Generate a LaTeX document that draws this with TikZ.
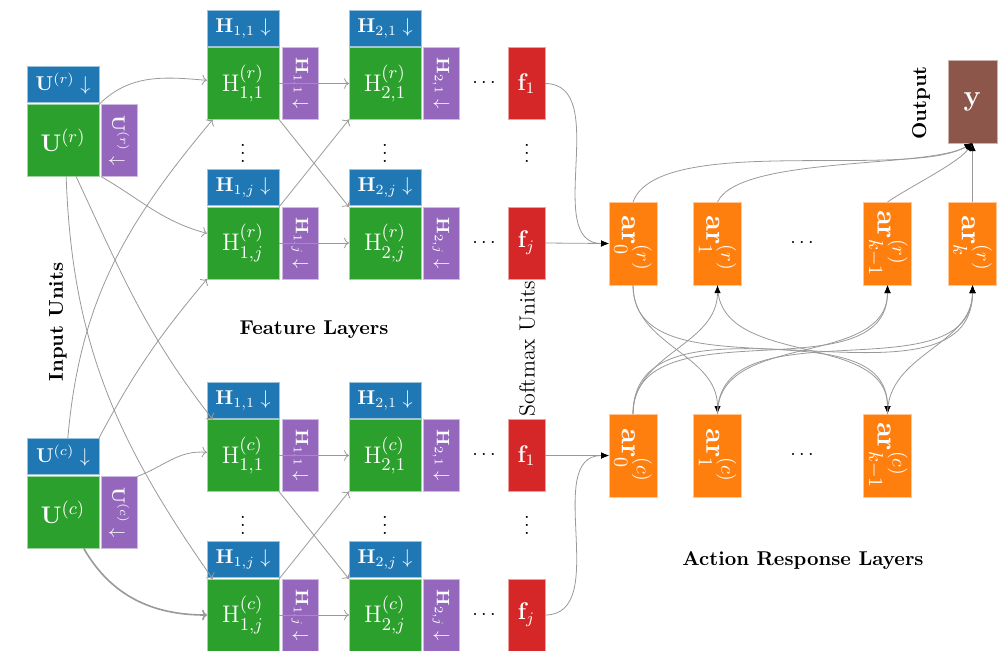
\documentclass[tikz,border=0pt]{standalone}
\usepackage{graphicx, amssymb}
\usepackage{tikz}
\usetikzlibrary{arrows.meta}
\definecolor{cblue}{HTML}{1F77B4}
\definecolor{cgreen}{HTML}{2CA02C}
\definecolor{cpurple}{HTML}{9467BD}
\definecolor{cred}{HTML}{D62728}
\definecolor{corange}{HTML}{FF7F0E}
\definecolor{cbrown}{HTML}{8C564B}
\tikzset{
every picture/.style={line width=0.4pt, x=0.5pt, y=0.5pt},
%%%%%%%%%%  Node styles
cell/.style={rectangle, draw=white!55!#1, fill=#1, text=white,
             inner sep=0pt, outer sep=0pt},
unitbox/.style={cell=cgreen, minimum width=36pt, minimum height=36pt,
                font=\fontsize{13.2}{15}\selectfont},
downbox/.style={cell=cblue, minimum width=36pt, minimum height=18pt},
sidebox/.style={cell=cpurple, minimum width=18pt, minimum height=36pt,
                font=\small},
softbox/.style={cell=cred, minimum width=18.5pt, minimum height=36pt,
                font=\large},
respbox/.style={cell=corange, minimum width=24pt, minimum height=41.5pt,
                font=\Large},
outbox/.style={cell=cbrown, minimum width=24.5pt, minimum height=41.5pt,
               font=\Large},
dots/.style={inner sep=0pt},
caption/.style={font=\bfseries},
%%%% different line styles:
wire/.style={draw=black!40, -{To[length=2.5pt]}},
resp/.style={draw=black!40, -{Latex[length=4pt,width=3.2pt,black]}}
}

\begin{document}
\begin{tikzpicture}
\useasboundingbox (0,0) rectangle (1005,-650);

%%%%% input units
\node[downbox] (Urd) at (63,-84) {$\mathbf{U}^{(r)}\downarrow$};
\node[unitbox] (Ur) at (63,-140.5) {$\mathbf{U}^{(r)}$};
\node[sidebox] (Urs) at (119,-140.5) {\rotatebox{-90}{$\mathbf{U}^{(r)}\downarrow$}};
\node[downbox] (Ucd) at (63,-456) {$\mathbf{U}^{(c)}\downarrow$};
\node[unitbox] (Uc) at (63,-512.5) {$\mathbf{U}^{(c)}$};
\node[sidebox] (Ucs) at (119,-512.5) {\rotatebox{-90}{$\mathbf{U}^{(c)}\downarrow$}};

%%%%% feature layers and softmax units, one block per player
\foreach \g/\dy in {r/0,c/-372} {
  \node[downbox] (H11\g d) at (243,-28+\dy) {$\mathbf{H}_{1,1}\downarrow$};
  \node[unitbox] (H11\g) at (243,-83.5+\dy) {$\mathrm{H}^{(\g)}_{1,1}$};
  \node[sidebox] (H11\g s) at (300,-83.5+\dy) {\rotatebox{-90}{$\mathbf{H}_{1,1}\downarrow$}};
  \node[downbox] (H21\g d) at (385,-28+\dy) {$\mathbf{H}_{2,1}\downarrow$};
  \node[unitbox] (H21\g) at (385,-83.5+\dy) {$\mathrm{H}^{(\g)}_{2,1}$};
  \node[sidebox] (H21\g s) at (441,-83.5+\dy) {\rotatebox{-90}{$\mathbf{H}_{2,1}\downarrow$}};
  \node[downbox] (H1j\g d) at (243,-187.5+\dy) {$\mathbf{H}_{1,j}\downarrow$};
  \node[unitbox] (H1j\g) at (243,-243+\dy) {$\mathrm{H}^{(\g)}_{1,j}$};
  \node[sidebox] (H1j\g s) at (300,-243+\dy) {\rotatebox{-90}{$\mathbf{H}_{1,j}\downarrow$}};
  \node[downbox] (H2j\g d) at (385,-187.5+\dy) {$\mathbf{H}_{2,j}\downarrow$};
  \node[unitbox] (H2j\g) at (385,-243+\dy) {$\mathrm{H}^{(\g)}_{2,j}$};
  \node[sidebox] (H2j\g s) at (441,-243+\dy) {\rotatebox{-90}{$\mathbf{H}_{2,j}\downarrow$}};
  \node[softbox] (f1\g) at (526.5,-83.5+\dy) {$\mathbf{f}_1$};
  \node[softbox] (fj\g) at (526.5,-243+\dy) {$\mathbf{f}_j$};
  \node[dots] (vd1\g) at (243,-147+\dy) {$\vdots$};
  \node[dots] (vd2\g) at (385,-147+\dy) {$\vdots$};
  \node[dots] (vd3\g) at (527,-147+\dy) {$\vdots$};
  \node[dots] (hd1\g) at (484,-83.5+\dy) {$\cdots$};
  \node[dots] (hd2\g) at (484,-243+\dy) {$\cdots$};
  % connections inside the block
  \draw[wire] (H11\g.east) -- (H21\g.west);
  \draw[wire] (H1j\g.east) -- (H2j\g.west);
  \draw[wire] (H11\g.south east) -- (H2j\g.north west);
  \draw[wire] (H1j\g.north east) -- (H21\g.south west);
}

%%%%% action response layers
\node[respbox] (ar0r) at (633,-243.5) {\rotatebox{-90}{$\mathbf{ar}^{(r)}_{0}$}};
\node[respbox] (ar1r) at (717.5,-243.5) {\rotatebox{-90}{$\mathbf{ar}^{(r)}_{1}$}};
\node[dots] (ardr) at (802,-243.5) {$\cdots$};
\node[respbox] (arkmr) at (887.5,-243.5) {\rotatebox{-90}{$\mathbf{ar}^{(r)}_{k-1}$}};
\node[respbox] (arkr) at (972.5,-243.5) {\rotatebox{-90}{$\mathbf{ar}^{(r)}_{k}$}};
\node[respbox] (ar0c) at (633,-455.5) {\rotatebox{-90}{$\mathbf{ar}^{(c)}_{0}$}};
\node[respbox] (ar1c) at (717.5,-455.5) {\rotatebox{-90}{$\mathbf{ar}^{(c)}_{1}$}};
\node[dots] (ardc) at (802,-455.5) {$\cdots$};
\node[respbox] (arkmc) at (887.5,-455.5) {\rotatebox{-90}{$\mathbf{ar}^{(c)}_{k-1}$}};
\node[outbox] (y) at (972.5,-101.5) {$\mathbf{y}$};

%%%%% captions
\node[caption, rotate=90] (lin) at (58,-322) {Input Units};
\node[caption] (lfeat) at (314,-330) {Feature Layers};
\node[rotate=90, inner sep=0pt, font=\fontsize{11}{13}\selectfont,
      anchor=west] (lsoft) at (527,-417) {Softmax Units};
\node[caption, rotate=90] (lout) at (921,-103) {Output};
\node[caption] (lact) at (803,-561) {Action Response Layers};

%%%%% input units to first feature layer
\draw[wire] (Ur.north east) to[out=45,in=175] (H11r.175);
\draw[wire] (Urs.south west) to[out=-30,in=165] (H1jr.165);
\draw[wire] (Ur.-70) to[out=-65,in=128] (H11c.130);
\draw[wire] (Ur.-85) to[out=-88,in=125] (H1jc.130);
\draw[wire] (Ucd.75) to[out=85,in=-130] (H11r.-130);
\draw[wire] (Ucd.north east) to[out=62,in=-130] (H1jr.south west);
\draw[wire] (Ucs.north east) to[out=20,in=175] (H11c.175);
\draw[wire, line width=0.8pt] (Uc.-60) to[out=-60,in=180] (H1jc.west);

%%%%% softmax units to level-0 responses
\draw[resp] (f1r.east) to[out=0,in=180] (ar0r.west);
\draw[resp] (fjr.east) -- (ar0r.west);
\draw[resp] (f1c.east) -- (ar0c.west);
\draw[resp] (fjc.east) to[out=0,in=180] (ar0c.west);

%%%%% between the two response layers
\foreach \a/\b in {ar0r/ar1c, ar0r/arkmc, ar1r/arkmc}
  \draw[resp] (\a.south) to[out=-90,in=90] (\b.north);
\foreach \a/\b in {ar0c/ar1r, ar0c/arkmr, ar0c/arkr, ar1c/arkmr, ar1c/arkr, arkmc/arkr}
  \draw[resp] (\a.north) to[out=90,in=-90] (\b.south);

%%%%% responses to output
\draw[resp] (ar0r.north) to[out=70,in=-150,looseness=0.55] (y.south);
\draw[resp] (ar1r.north) to[out=65,in=-150,looseness=0.5] (y.south);
\draw[resp] (arkmr.north) to[out=35,in=-125,looseness=0.6] (y.south);
\draw[resp] (arkr.north) -- (y.south);
\end{tikzpicture}
\end{document}
